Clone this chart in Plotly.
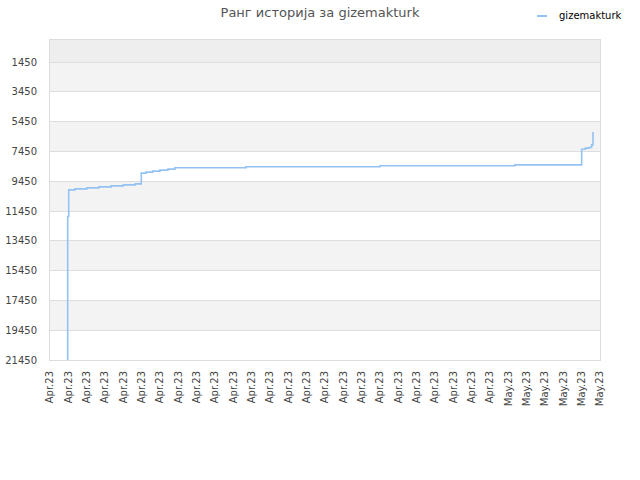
import pandas as pd
import plotly.graph_objects as go

# ---- data ----
times = [
    "2023-04-06 23:00", "2023-04-06 23:10", "2023-04-07 00:30", "2023-04-07 08:40",
    "2023-04-08 00:00", "2023-04-08 16:00", "2023-04-09 08:00", "2023-04-10 00:00",
    "2023-04-10 15:40", "2023-04-10 23:30", "2023-04-11 05:45", "2023-04-11 14:25",
    "2023-04-12 00:00", "2023-04-12 10:35", "2023-04-12 19:40", "2023-04-16 16:35",
    "2023-04-24 00:00", "2023-05-01 08:40", "2023-05-05 00:00", "2023-05-05 04:50",
    "2023-05-05 09:35", "2023-05-05 13:00", "2023-05-05 14:50",
]
ranks = [
    21450, 11820, 10030, 9960,
    9895, 9830, 9760, 9693,
    9625, 8907, 8840, 8773,
    8706, 8640, 8550, 8483,
    8416, 8350, 7300, 7230,
    7190, 7010, 6150,
]
series_name = "gizemakturk"
title_text = "Ранг историја за gizemakturk"

y_ticks = [1450, 3450, 5450, 7450, 9450, 11450, 13450, 15450, 17450, 19450, 21450]
x_tick_dates = list(pd.date_range("2023-04-06", "2023-05-06", freq="D"))
x_tick_labels = ["Apr.23"] * 25 + ["May.23"] * 6

y_top = -30
y_bottom = 21450
line_color = "#94c2f2"
font_family = "DejaVu Sans"

fig = go.Figure()
fig.add_trace(go.Scatter(
    x=times, y=ranks, mode="lines", line=dict(color=line_color, width=1.6, shape="hv"),
    name=series_name, showlegend=False, hoverinfo="skip",
))

shapes = []
# darker band above the first tick
shapes.append(dict(type="rect", xref="paper", yref="y", x0=0, x1=1, y0=y_top, y1=y_ticks[0],
                   fillcolor="#eeeeee", line_width=0, layer="below"))
# alternating bands
for i in range(0, len(y_ticks) - 1, 2):
    shapes.append(dict(type="rect", xref="paper", yref="y", x0=0, x1=1,
                       y0=y_ticks[i], y1=y_ticks[i + 1],
                       fillcolor="#f3f3f3", line_width=0, layer="below"))
# legend line sample
shapes.append(dict(type="line", xref="paper", yref="paper", x0=0.8855, x1=0.9036,
                   y0=1.075, y1=1.075, line=dict(color=line_color, width=2)))

fig.update_layout(
    width=640, height=480,
    margin=dict(l=50, r=40, t=40, b=120, autoexpand=False),
    paper_bgcolor="white", plot_bgcolor="white",
    font=dict(family=font_family, size=10, color="#444444"),
    title=dict(text=title_text, x=0.5, xanchor="center", y=0.975, yanchor="middle",
               font=dict(family=font_family, size=13, color="#555555")),
    shapes=shapes,
    annotations=[dict(text=series_name, xref="paper", yref="paper", x=0.922, y=1.078,
                      xanchor="left", yanchor="middle", showarrow=False,
                      font=dict(family=font_family, size=10, color="#000000"))],
    showlegend=False,
)
fig.update_xaxes(
    type="date", range=["2023-04-06", "2023-05-06"], automargin=False,
    tickvals=x_tick_dates, ticktext=x_tick_labels, tickangle=-90,
    showgrid=False, showline=True, linecolor="#dddddd", mirror=True,
    ticks="", ticklabelstandoff=6, zeroline=False,
    tickfont=dict(family=font_family, size=10, color="#444444"),
)
fig.update_yaxes(
    range=[y_bottom, y_top], tickvals=y_ticks, ticktext=[str(v) for v in y_ticks],
    automargin=False,
    showgrid=True, gridcolor="#dddddd", gridwidth=1,
    showline=True, linecolor="#dddddd", mirror=True, zeroline=False,
    ticks="", ticklabelstandoff=10,
    tickfont=dict(family=font_family, size=10, color="#444444"),
)

fig.write_html("out.html", config={"displayModeBar": False},
               post_script="document.body.style.margin='0';")
